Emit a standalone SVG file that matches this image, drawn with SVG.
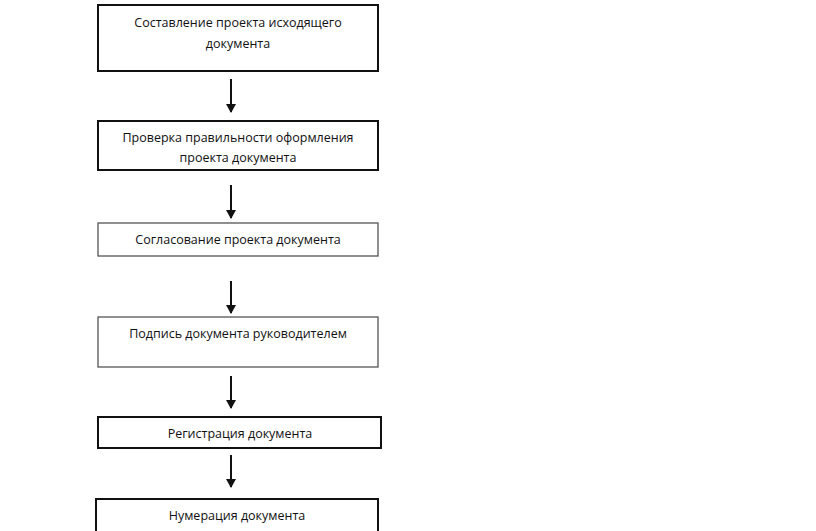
<svg xmlns="http://www.w3.org/2000/svg" width="816" height="531" viewBox="0 0 816 531">
<style>
.b{fill:#fff;stroke:#111;stroke-width:2}
.g{fill:#fff;stroke:#555;stroke-width:1.3}
text{font-family:"Open Sans","Liberation Sans",sans-serif;font-size:12.5px;fill:#111;text-anchor:middle}
.c line{stroke:#111;stroke-width:2}
</style>
<defs><marker id="a" markerWidth="10" markerHeight="10" refX="8" refY="5" orient="auto" markerUnits="userSpaceOnUse"><path d="M0,0 L9,5 L0,10z" fill="#111"/></marker></defs>
<rect width="816" height="531" fill="#fff"/>
<g id="n1"><rect class="b" x="98" y="5" width="280" height="66"/><text x="238" y="27">Составление проекта исходящего</text><text x="238" y="48">документа</text></g>
<g id="n2"><rect class="b" x="98" y="121" width="280" height="49"/><text x="238" y="142">Проверка правильности оформления</text><text x="238" y="162">проекта документа</text></g>
<g id="n3"><rect class="g" x="98" y="223" width="280" height="33"/><text x="238" y="244">Согласование проекта документа</text></g>
<g id="n4"><rect class="g" x="98" y="317" width="280" height="50"/><text x="238" y="338">Подпись документа руководителем</text></g>
<g id="n5"><rect class="b" x="98" y="417" width="283" height="31"/><text x="240" y="438">Регистрация документа</text></g>
<g id="n6"><rect class="b" x="96" y="499" width="282" height="33"/><text x="237" y="520">Нумерация документа</text></g>
<g class="c">
<line x1="231" y1="79" x2="231" y2="112" marker-end="url(#a)"/>
<line x1="231" y1="185" x2="231" y2="218" marker-end="url(#a)"/>
<line x1="231" y1="281" x2="231" y2="313" marker-end="url(#a)"/>
<line x1="231" y1="376" x2="231" y2="408" marker-end="url(#a)"/>
<line x1="231" y1="455" x2="231" y2="487" marker-end="url(#a)"/>
</g>
</svg>
